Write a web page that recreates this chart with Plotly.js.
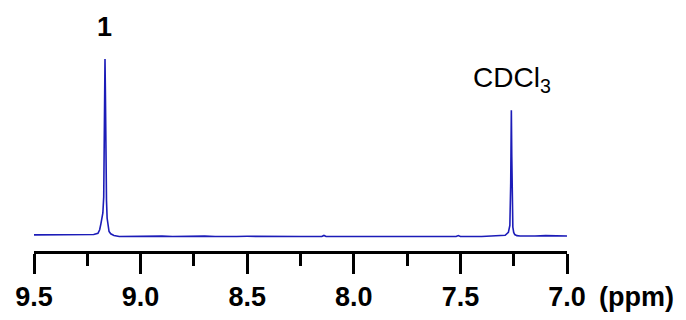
<!DOCTYPE html>
<html>
<head>
<meta charset="utf-8">
<script src="https://cdn.plot.ly/plotly-3.0.1.min.js"></script>
<style>html,body{margin:0;padding:0;background:#fff;}#chart{width:686px;height:320px;}</style>
</head>
<body>
<div id="chart"></div>
<script>
// Chemical shift (ppm) and intensity
var shiftPpm = [9.50, 9.40, 9.30, 9.22, 9.20, 9.192, 9.186, 9.181, 9.177, 9.173, 9.170, 9.167, 9.165, 9.163, 9.160, 9.157, 9.153, 9.148, 9.140, 9.125,
  9.10, 9.05, 9.00, 8.95, 8.90, 8.85, 8.80, 8.75, 8.70, 8.65, 8.60, 8.55, 8.50, 8.45, 8.40, 8.35, 8.30, 8.25, 8.20, 8.15, 8.14, 8.13, 8.10, 8.00, 7.90, 7.80, 7.70, 7.60, 7.52, 7.51, 7.50, 7.40, 7.32, 7.29, 7.275, 7.268, 7.264, 7.261, 7.259, 7.257, 7.254, 7.250, 7.245, 7.235, 7.22, 7.15, 7.10, 7.00];
var intensity = [0.6, 0.6, 0.6, 0.8, 1.5, 3.5, 7, 11, 13, 22, 55, 100, 80, 45, 20, 10, 5, 2.5, 1.2, 0.3,
  -0.3, -0.2, -0.1, -0.3, -0.1, -0.3, -0.1, -0.3, -0.1, -0.3, -0.1, -0.3, -0.2, -0.3, -0.2, -0.3, -0.3, -0.3, -0.3, -0.3, 0.3, -0.3, -0.3, -0.3, -0.3, -0.3, -0.3, -0.3, -0.3, 0.2, -0.3, -0.3, -0.1, 0.4, 2, 6, 30, 71, 45, 12, 5, 2, 0.8, 0.2, 0, 0, 0.2, 0];
var tickVals = [9.5, 9.0, 8.5, 8.0, 7.5, 7.0];
var tickText = ['9.5', '9.0', '8.5', '8.0', '7.5', '7.0'];

var trace = {
  x: shiftPpm, y: intensity, type: 'scatter', mode: 'lines',
  line: {color: '#1c1cb8', width: 1.6}, hoverinfo: 'skip'
};

var layout = {
  width: 686, height: 320,
  margin: {l: 34, r: 119, t: 20, b: 69},
  paper_bgcolor: '#ffffff', plot_bgcolor: '#ffffff',
  showlegend: false,
  font: {family: 'Liberation Sans, Arial, sans-serif', color: '#000'},
  xaxis: {
    range: [9.5, 7.0], showgrid: false, zeroline: false,
    showline: true, linecolor: '#000', linewidth: 3,
    ticks: 'outside', ticklen: 20, tickwidth: 3, tickcolor: '#000',
    tickmode: 'array', tickvals: tickVals, ticktext: tickText,
    tickfont: {size: 27, family: 'Liberation Sans, Arial, sans-serif', weight: 'bold'},
    minor: {dtick: 0.25, ticks: 'outside', ticklen: 12, tickwidth: 3, tickcolor: '#000', showgrid: false}
  },
  yaxis: {range: [-8.5, 122], visible: false, showgrid: false, zeroline: false},
  annotations: [
    {text: '<b>1</b>', x: 9.17, y: 100, xref: 'x', yref: 'y', showarrow: false, yanchor: 'bottom', yshift: 15, font: {size: 27}},
    {text: 'CDCl<sub>3</sub>', x: 7.26, y: 71, xref: 'x', yref: 'y', showarrow: false, yanchor: 'bottom', yshift: 11, font: {size: 28}},
    {text: '<b>(ppm)</b>', x: 1.0, y: 0, xref: 'paper', yref: 'paper', xanchor: 'left', yanchor: 'middle', xshift: 30, yshift: -46, showarrow: false, font: {size: 27}}
  ]
};

Plotly.newPlot('chart', [trace], layout, {displayModeBar: false, staticPlot: true});
</script>
</body>
</html>
